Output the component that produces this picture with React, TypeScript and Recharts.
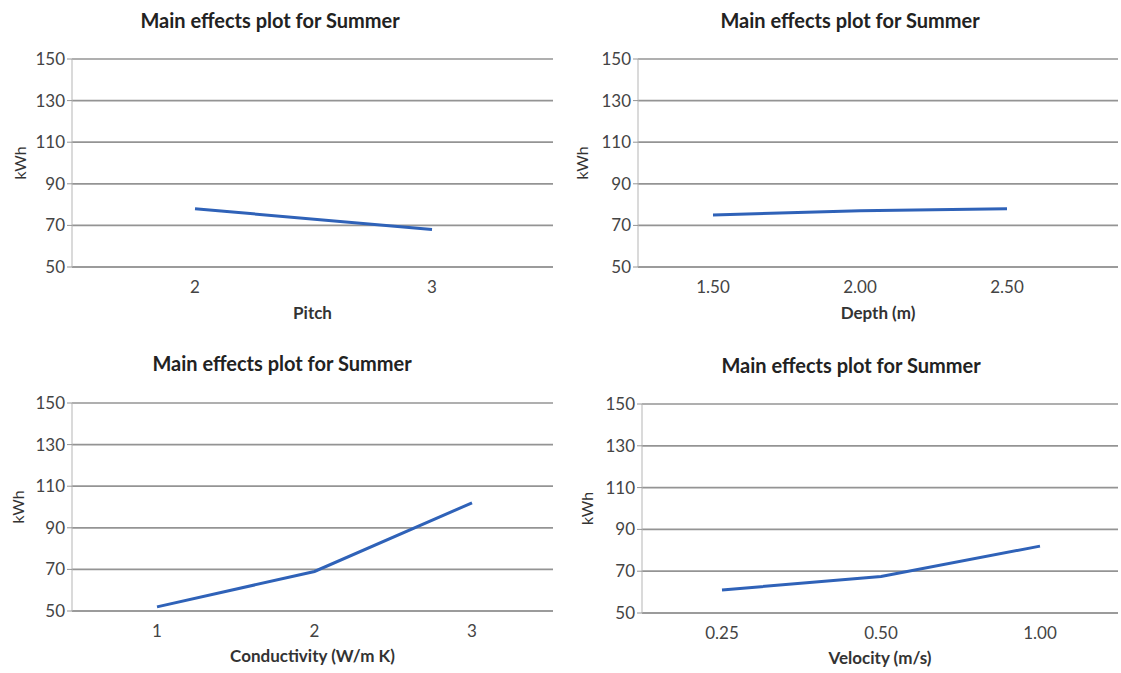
import { LineChart, Line, XAxis, YAxis, CartesianGrid } from "recharts";

const yTicks = [50, 70, 90, 110, 130, 150];

const pitchCats = ["2", "3"];
const pitchKwh = [78, 68];

const depthCats = ["1.50", "2.00", "2.50"];
const depthKwh = [75, 77, 78];

const condCats = ["1", "2", "3"];
const condKwh = [52, 69, 102];

const velCats = ["0.25", "0.50", "1.00"];
const velKwh = [61, 67.5, 82];

const FONT = "Lato, 'Open Sans', sans-serif";

type PanelProps = {
  left: number;
  top: number;
  width: number;
  height: number;
  cats: string[];
  values: number[];
  xLabel: string;
  yAxisWidth: number;
  margin: { top: number; right: number; bottom: number; left: number };
  pad: { left: number; right: number };
  title: { x: number; y: number };
  kwhOffset: number;
  labelOffset: number;
};

function Panel(p: PanelProps) {
  const data = p.cats.map((c, i) => ({ cat: c, kwh: p.values[i] }));
  return (
    <div style={{ position: "absolute", left: p.left, top: p.top, width: p.width, height: p.height }}>
      <div
        style={{
          position: "absolute",
          left: p.title.x - 200,
          top: p.title.y - 13,
          width: 400,
          textAlign: "center",
          fontFamily: FONT,
          fontWeight: 700,
          fontSize: 20,
          color: "#222",
          lineHeight: "26px",
        }}
      >
        Main effects plot for Summer
      </div>
      <LineChart width={p.width} height={p.height} data={data} margin={p.margin}>
        <CartesianGrid vertical={false} stroke="#949494" strokeWidth={1.7} />
        <XAxis
          dataKey="cat"
          padding={p.pad}
          axisLine={{ stroke: "#949494", strokeWidth: 1.7 }}
          tickLine={false}
          tickMargin={8}
          height={56}
          tick={{ fill: "#444", fontSize: 17, fontFamily: FONT }}
          label={{
            value: p.xLabel,
            position: "insideBottom",
            offset: p.labelOffset,
            style: { fill: "#333", fontSize: 17, fontWeight: 700, fontFamily: FONT },
          }}
        />
        <YAxis
          domain={[50, 150]}
          ticks={yTicks}
          width={p.yAxisWidth}
          axisLine={{ stroke: "#b5b5b5" }}
          tickLine={{ stroke: "#949494" }}
          tickSize={5}
          tick={{ fill: "#444", fontSize: 17, fontFamily: FONT }}
          label={{
            value: "kWh",
            angle: -90,
            position: "insideLeft",
            offset: p.kwhOffset,
            style: { fill: "#333", fontSize: 16, fontFamily: FONT, textAnchor: "middle" },
          }}
        />
        <Line
          type="linear"
          dataKey="kwh"
          stroke="#2f62b8"
          strokeWidth={3}
          dot={false}
          isAnimationActive={false}
        />
      </LineChart>
    </div>
  );
}

export default function App() {
  return (
    <div
      style={{
        position: "fixed",
        left: 0,
        top: 0,
        width: 1121,
        height: 673,
        background: "#fff",
        overflow: "hidden",
      }}
    >
      <Panel
        left={0}
        top={0}
        width={560}
        height={330}
        cats={pitchCats}
        values={pitchKwh}
        xLabel="Pitch"
        yAxisWidth={72}
        margin={{ top: 59, right: 7, bottom: 7, left: 0 }}
        pad={{ left: 123, right: 121 }}
        title={{ x: 270, y: 20 }}
        kwhOffset={20}
        labelOffset={4}
      />
      <Panel
        left={560}
        top={0}
        width={561}
        height={330}
        cats={depthCats}
        values={depthKwh}
        xLabel="Depth (m)"
        yAxisWidth={78}
        margin={{ top: 59, right: 3, bottom: 7, left: 0 }}
        pad={{ left: 75, right: 111 }}
        title={{ x: 290, y: 20 }}
        kwhOffset={22}
        labelOffset={4}
      />
      <Panel
        left={0}
        top={340}
        width={560}
        height={333}
        cats={condCats}
        values={condKwh}
        xLabel="Conductivity (W/m K)"
        yAxisWidth={72}
        margin={{ top: 63, right: 7, bottom: 6, left: 0 }}
        pad={{ left: 85, right: 81 }}
        title={{ x: 282, y: 23 }}
        kwhOffset={18}
        labelOffset={5}
      />
      <Panel
        left={560}
        top={340}
        width={561}
        height={333}
        cats={velCats}
        values={velKwh}
        xLabel="Velocity (m/s)"
        yAxisWidth={82}
        margin={{ top: 64, right: 3, bottom: 4, left: 0 }}
        pad={{ left: 80, right: 78 }}
        title={{ x: 291, y: 25 }}
        kwhOffset={27}
        labelOffset={5}
      />
    </div>
  );
}
